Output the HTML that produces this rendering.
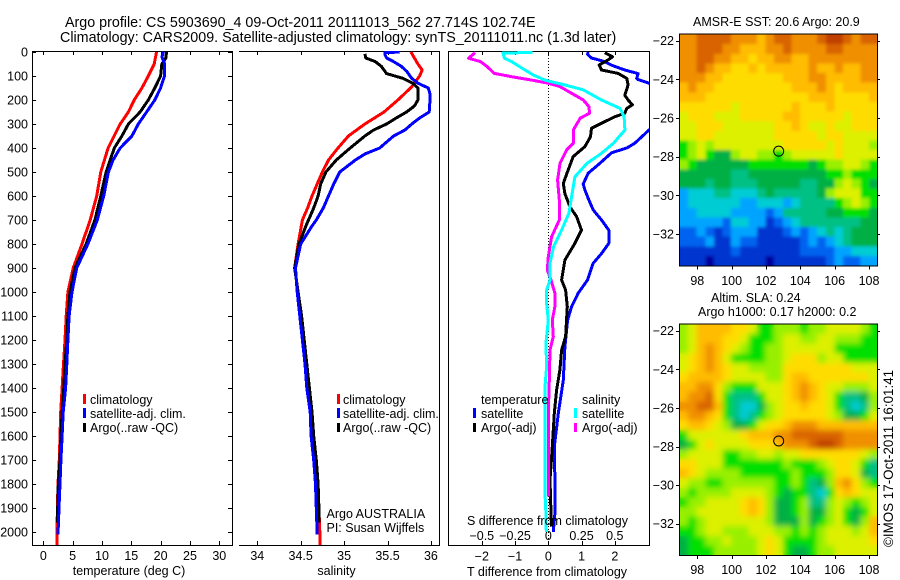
<!DOCTYPE html>
<html>
<head>
<meta charset="utf-8">
<title>Argo profile</title>
<style>
html,body{margin:0;padding:0;background:#fff;width:900px;height:580px;overflow:hidden}
svg{display:block}
text{font-family:"Liberation Sans",sans-serif;font-size:12.5px;fill:#000}
</style>
</head>
<body>
<svg id="chart" xmlns="http://www.w3.org/2000/svg" width="900" height="580" viewBox="0 0 900 580">
<defs>
<clipPath id="clip1"><rect x="32" y="51" width="200" height="494"/></clipPath>
<clipPath id="clip2"><rect x="239" y="51" width="201" height="494"/></clipPath>
<clipPath id="clip3"><rect x="448" y="51" width="201" height="494"/></clipPath>
<clipPath id="clipMap1"><rect x="679.5" y="34.5" width="198" height="231"/></clipPath>
<clipPath id="clipMap2"><rect x="679.5" y="324.5" width="198" height="230.5"/></clipPath>
<filter id="softSst" x="-5%" y="-5%" width="110%" height="110%"><feGaussianBlur in="SourceGraphic" stdDeviation="1.6" result="b"/><feMerge><feMergeNode in="SourceGraphic"/><feMergeNode in="b"/></feMerge></filter>
<filter id="softSla" x="-5%" y="-5%" width="110%" height="110%"><feGaussianBlur in="SourceGraphic" stdDeviation="3" result="b"/><feMerge><feMergeNode in="SourceGraphic"/><feMergeNode in="b"/></feMerge></filter>
</defs>
<text x="65" y="27" style="font-size:14.3px">Argo profile: CS 5903690_4 09-Oct-2011 20111013_562 27.714S 102.74E</text>
<text x="60" y="42" style="font-size:14.3px">Climatology: CARS2009. Satellite-adjusted climatology: synTS_20111011.nc (1.3d later)</text>
<g id="layer"></g>
<g>
<rect x="83" y="394" width="3" height="10" fill="#f00"/><text x="90" y="404">climatology</text>
<rect x="83" y="408" width="3" height="10" fill="#00f"/><text x="90" y="418">satellite-adj. clim.</text>
<rect x="83" y="423" width="3" height="9" fill="#000"/><text x="90" y="432">Argo(..raw -QC)</text>
</g>
<g>
<rect x="337" y="394" width="3" height="10" fill="#f00"/><text x="343" y="404">climatology</text>
<rect x="337" y="408" width="3" height="10" fill="#00f"/><text x="343" y="418">satellite-adj. clim.</text>
<rect x="337" y="423" width="3" height="9" fill="#000"/><text x="343" y="432">Argo(..raw -QC)</text>
</g>
<text x="326.500" y="518">Argo AUSTRALIA</text>
<text x="326.500" y="532">PI: Susan Wijffels</text>
<g>
<text x="481" y="404">temperature</text>
<rect x="473" y="408" width="3" height="10" fill="#00f"/><text x="481" y="418">satellite</text>
<rect x="473" y="423" width="3" height="9" fill="#000"/><text x="481" y="432">Argo(-adj)</text>
<text x="582" y="404">salinity</text>
<rect x="574" y="408" width="3" height="10" fill="#0ff"/><text x="582" y="418">satellite</text>
<rect x="574" y="423" width="3" height="9" fill="#f0f"/><text x="582" y="432">Argo(-adj)</text>
</g>
<text x="129" y="575" text-anchor="middle">temperature (deg C)</text>
<text x="336.500" y="575" text-anchor="middle">salinity</text>
<text x="467" y="576">T difference from climatology</text>
<text x="467" y="525">S difference from climatology</text>
<text x="693" y="26">AMSR-E SST: 20.6 Argo: 20.9</text>
<text x="711" y="302">Altim. SLA: 0.24</text>
<text x="698" y="316">Argo h1000: 0.17 h2000: 0.2</text>
<text transform="translate(893,547) rotate(-90)" style="font-size:13.4px">©IMOS 17-Oct-2011 16:01:41</text>
</svg>
<script>
var depthTicks = [0,100,200,300,400,500,600,700,800,900,1000,1100,1200,1300,1400,1500,1600,1700,1800,1900,2000];
var tempTicks = [0,5,10,15,20,25,30];
var salTicks = [34,34.5,35,35.5,36];
var salTickLabels = ['34','34.5','35','35.5','36'];
var tDiffTicks = [-2,-1,0,1,2];
var tDiffLabels = ['\u22122','\u22121','0','1','2'];
var sDiffTicks = [-0.5,-0.25,0,0.25,0.5];
var sDiffLabels = ['\u22120.5','\u22120.25','0','0.25','0.5'];
var lonTicks = [98,100,102,104,106,108];
var latTicks = [-22,-24,-26,-28,-30,-32];
var argoLon = 102.74;
var argoLat = -27.714;

var tempClimDepth = [0,50,75,100,150,200,250,300,400,500,600,700,800,900,1000,1100,1200,1300,1400,1500,1600,1700,1800,1900,2000,2054];
var tempClim = [19.3,18.9,18.4,17.9,16.8,15.5,14.5,13.1,11.05,9.8,9.1,8.0,6.6,5.1,4.2,3.9,3.7,3.45,3.2,2.96,2.85,2.73,2.5,2.4,2.33,2.3];
var tempSatDepth = [0,20,50,100,150,200,250,300,350,400,450,500,600,700,800,900,1000,1100,1200,1300,1400,1500,1600,1700,1800,1900,2010];
var tempSat = [20.5,20.2,20.7,20.65,20,19,17.6,16.2,15.1,13.1,11.9,11.1,10.3,9.2,7.6,5.7,4.9,4.4,4.2,4,3.8,3.4,3.2,3.0,2.85,2.68,2.5];
var tempArgoDepth = [0,25,50,100,150,200,250,300,350,400,500,600,700,800,900,1000,1100,1200,1300,1400,1500,1600,1700,1800,1900,1960];
var tempArgo = [21,20.9,20.2,20,19,17.9,16.5,14.5,13.4,12.1,10.7,9.8,8.8,7.3,5.4,4.55,4.2,4,3.7,3.5,3.2,3,2.85,2.56,2.45,2.4];

var salClimDepth = [0,50,75,100,145,200,250,300,350,400,450,500,550,600,650,700,800,900,1000,1100,1200,1300,1400,1500,1600,1700,1800,1900,2000,2054];
var salClim = [35.77,35.85,35.9,35.87,35.78,35.62,35.46,35.24,35.05,34.93,34.82,34.75,34.69,34.63,34.58,34.52,34.47,34.43,34.47,34.5,34.53,34.56,34.59,34.62,34.65,34.68,34.7,34.71,34.72,34.72];
var salSatDepth = [0,3,10,25,40,60,80,110,130,150,175,200,250,275,300,325,350,400,425,450,500,550,600,650,700,725,800,900,1000,1100,1200,1300,1400,1500,1600,1700,1800,1900,2010];
var salSat = [35.64,35.47,35.47,35.49,35.57,35.66,35.72,35.78,35.85,35.97,35.99,35.99,35.98,35.87,35.78,35.7,35.57,35.41,35.24,35.13,34.95,34.88,34.82,34.76,34.68,34.63,34.5,34.44,34.46,34.49,34.52,34.55,34.57,34.61,34.62,34.65,34.67,34.68,34.69];
var salArgoDepth = [8,25,40,60,75,90,110,130,150,200,225,250,275,300,325,350,400,450,500,550,600,650,700,725,800,900,1000,1100,1200,1300,1400,1500,1600,1700,1800,1900,1960];
var salArgo = [35.24,35.25,35.36,35.43,35.46,35.49,35.68,35.79,35.85,35.85,35.81,35.72,35.6,35.49,35.34,35.24,35.07,34.91,34.79,34.73,34.7,34.65,34.59,34.56,34.48,34.43,34.47,34.51,34.54,34.57,34.6,34.63,34.65,34.68,34.7,34.71,34.71];

var dTempSatDepth = [0,10,25,40,55,75,90,110,115,130,200,300,325,380,400,420,464,505,550,575,617,658,700,742,797,840,880,950,1005,1061,1117,1228,1367,1506,1644,1783,1922,2000];
var dTempSat = [1.2,1.18,1.3,1.7,1.9,2.3,2.7,2.66,2.7,3.03,3.6,3.8,3.03,2.6,2.36,1.9,1.55,1.2,1.05,1.1,1.22,1.35,1.6,1.82,1.82,1.6,1.35,1.18,0.9,0.7,0.58,0.5,0.45,0.3,0.18,0.2,0.2,0.15];
var dTempArgoDepth = [3,20,33,54,75,89,110,137,180,200,220,235,255,270,290,318,353,394,436,490,547,590,645,686,742,797,867,950,992,1061,1186,1242,1325,1408,1506,1644,1783,1922,1978];
var dTempArgo = [1.7,1.93,1.8,1.53,1.6,2.1,2.36,2.4,2.3,2.4,2.53,2.36,2.3,2.0,1.7,1.3,1.27,1.1,0.75,0.6,0.45,0.5,0.65,0.85,1.0,0.8,0.5,0.4,0.52,0.57,0.52,0.4,0.35,0.25,0.18,0.12,0.05,0.08,0.1];
var dSalSatDepth = [2,4,26,40,75,96,117,137,158,200,235,270,325,380,422,464,520,603,672,742,811,880,950,992,1047,1117,1214,1311,1394,1644,1839,1922,2000];
var dSalSat = [-0.12,-0.34,-0.33,-0.276,-0.175,-0.113,-0.025,0.125,0.263,0.4,0.54,0.57,0.576,0.49,0.4,0.29,0.2,0.175,0.155,0.1,0.04,0.0125,0.0125,-0.0125,-0.0125,0,-0.018,-0.0125,-0.025,-0.025,-0.025,-0.018,-0.015];
var dSalArgoDepth = [3,26,40,61,89,103,117,130,144,172,200,228,255,276,325,380,408,464,533,617,700,770,853,908,950,1005,1061,1117,1186,1242,1367,1506,1630,1853];
var dSalArgo = [-0.55,-0.6,-0.51,-0.46,-0.406,-0.276,-0.125,0,0.088,0.175,0.263,0.306,0.31,0.24,0.188,0.188,0.138,0.088,0.07,0.083,0.083,0.025,0,-0.0075,0.02,0.05,0.05,0.03,0.0375,0.0125,0.0075,0,0,0];

var heatColors = ['#00009c','#0034d0','#0064f0','#00a4ff','#00ccd4','#00c084','#00b044','#00e000','#98f000','#dcf000','#ffdc00','#ffbc00','#f09000','#d86400','#c04000'];
var sstValues = [
[12,12,13,13,13,13,12,12,12,11,12,13,13,12,12,12,13,14,14,13,12,13,13],
[12,12,13,13,13,12,12,11,11,11,12,12,13,12,12,12,12,13,13,12,12,12,12],
[12,12,13,13,12,12,11,11,10,11,11,12,12,11,11,12,12,12,12,12,12,12,12],
[12,12,13,12,11,11,10,10,11,10,11,11,11,11,11,12,11,11,12,11,11,12,12],
[12,12,12,11,11,10,10,10,10,10,10,10,11,11,11,12,12,11,11,11,11,12,12],
[11,12,11,11,10,10,10,10,10,10,10,10,10,11,11,11,12,11,10,11,11,11,11],
[11,11,11,10,10,10,10,10,10,10,10,10,10,10,10,11,11,11,10,10,10,10,11],
[10,10,10,10,10,10,9,10,10,10,10,10,10,11,10,10,10,11,10,10,10,10,10],
[9,10,10,10,9,9,9,10,10,10,10,10,11,11,10,10,10,10,10,9,10,10,10],
[9,9,10,10,10,9,9,9,9,9,9,10,10,11,10,9,9,10,9,9,10,10,10],
[9,9,10,10,9,9,9,9,9,9,9,10,10,10,10,10,9,10,10,9,9,9,9],
[7,8,9,8,9,9,9,9,9,9,9,9,10,10,10,10,10,9,10,9,9,9,8],
[7,8,9,7,6,6,8,9,9,8,8,7,8,9,9,9,9,9,10,9,9,9,9],
[8,7,6,6,6,6,6,6,7,7,7,7,7,7,7,6,7,8,8,9,9,8,7],
[6,6,6,6,6,6,5,5,6,6,6,6,6,6,6,6,6,7,7,8,7,7,7],
[6,6,6,5,6,6,5,5,5,6,6,6,6,6,5,5,6,6,8,9,8,7,6],
[3,4,4,4,5,5,4,4,4,5,6,5,5,5,5,5,6,8,9,9,9,7,7],
[3,4,4,4,4,4,4,3,3,4,4,4,3,4,5,5,5,5,7,8,9,8,7],
[3,3,4,4,4,4,3,3,3,3,2,3,5,5,5,5,5,6,6,7,7,7,6],
[3,3,3,3,3,2,4,4,3,3,1,2,3,4,5,5,5,5,5,5,5,6,6],
[2,2,3,2,1,2,3,3,3,1,1,1,2,3,2,3,4,5,4,5,6,6,6],
[2,2,2,3,1,1,3,2,2,1,1,1,1,1,2,3,2,3,4,5,6,6,6],
[1,1,1,1,1,1,2,1,1,1,1,1,1,1,2,2,2,2,3,3,4,4,4],
[1,1,1,0,1,1,1,1,1,1,0,1,1,1,1,1,1,2,3,2,2,3,3]
];
var slaValues = [
[8,9,11,11,11,11,10,10,9,7,7,8,8,8,7,8,8,9,9,9,9,8,7],
[8,9,11,11,11,10,10,9,7,7,7,8,9,9,8,8,9,9,8,8,8,7,7],
[8,9,11,12,11,10,9,8,7,7,8,8,9,9,9,9,9,9,7,7,7,7,7],
[9,10,11,12,11,9,7,7,7,7,8,8,9,10,10,10,8,9,9,7,7,7,7],
[9,10,11,12,11,10,9,9,8,8,8,8,10,10,10,10,10,10,10,10,9,9,9],
[10,11,11,11,11,10,9,9,9,9,8,8,10,11,11,10,10,10,10,10,10,10,9],
[11,11,12,12,10,8,7,7,7,9,9,9,10,11,12,11,10,9,9,8,8,8,9],
[11,12,12,13,10,7,5,5,5,7,9,9,10,11,12,11,10,9,7,5,5,6,8],
[12,12,13,13,11,7,5,4,4,6,8,9,10,10,11,10,10,9,7,5,4,5,8],
[11,12,12,11,10,7,5,4,5,7,8,9,10,10,10,10,10,9,8,6,6,7,9],
[10,11,11,10,9,8,6,6,7,9,10,10,11,12,12,12,11,11,11,11,11,11,11],
[7,9,9,9,9,9,9,10,11,11,11,12,12,13,13,13,13,13,13,12,12,12,12],
[6,7,9,10,9,9,9,9,10,10,10,11,12,12,12,13,14,14,13,12,12,12,12],
[8,9,9,9,9,7,7,8,8,9,9,8,9,9,10,10,10,10,10,10,10,9,8],
[10,10,9,9,9,7,7,7,7,7,7,7,8,7,7,7,8,9,10,10,9,7,5],
[11,10,9,8,8,8,8,7,7,7,7,7,7,8,7,7,7,8,10,10,9,6,5],
[9,8,8,7,7,8,8,8,8,8,8,7,7,8,7,5,6,8,11,12,10,8,7],
[8,7,8,8,8,8,9,9,9,9,8,7,6,7,7,5,4,7,10,11,10,9,9],
[7,8,8,9,9,9,9,10,11,10,8,6,6,7,8,5,5,8,9,8,7,8,9],
[8,8,9,9,9,9,9,10,11,10,8,6,6,7,8,6,6,8,9,7,6,7,9],
[8,7,8,9,9,9,9,9,9,9,8,6,6,6,8,6,7,8,9,7,6,8,11],
[7,7,8,9,9,8,8,8,9,9,9,8,8,7,8,7,8,9,9,9,8,9,11],
[6,7,7,8,8,9,8,8,8,9,10,9,7,7,7,7,8,9,9,9,9,9,10],
[6,7,7,7,8,8,8,8,8,9,10,9,7,6,6,7,8,8,9,9,9,9,9]
];

var SVGNS = 'http://www.w3.org/2000/svg';
var layer = document.getElementById('layer');

function make(tag, attrs, parent) {
  var el = document.createElementNS(SVGNS, tag);
  for (var k in attrs) el.setAttribute(k, attrs[k]);
  (parent || layer).appendChild(el);
  return el;
}
function depthY(d) { return 52 + d * 0.24; }
function tempX(t) { return 43.3 + t * 5.867; }
function salX(s) { return 257.3 + (s - 34) * 86.8; }
function dTempX(t) { return 548.3 + t * 33.25; }
function dSalX(s) { return 548.3 + s * 133; }
function mapLonX(lon) { return 697.3 + (lon - 98) * 17.17; }
function mapLatY1(lat) { return 40.7 + (-22 - lat) * 19.33; }
function mapLatY2(lat) { return 330.7 + (-22 - lat) * 19.3; }

function hLine(x1, x2, y, name) {
  var l = make('line', {x1:x1, x2:x2, y1:y, y2:y, stroke:'#000', 'stroke-width':1, 'shape-rendering':'crispEdges'});
  
  
}
function vLine(x, y1, y2, name) {
  var l = make('line', {x1:x, x2:x, y1:y1, y2:y2, stroke:'#000', 'stroke-width':1, 'shape-rendering':'crispEdges'});
  
  
}
function label(x, y, str, anchor, name) {
  var t = make('text', {x:x, y:y, 'text-anchor':anchor});
  t.textContent = str;
  
  
}
function profile(depths, values, xFn, color, clip, name) {
  var pts = [];
  for (var i = 0; i < values.length; i++) pts.push(xFn(values[i]).toFixed(1) + ',' + depthY(depths[i]).toFixed(1));
  var p = make('polyline', {points:pts.join(' '), fill:'none', stroke:color, 'stroke-width':3, 'stroke-linejoin':'round', 'clip-path':'url(#' + clip + ')', 'shape-rendering':'crispEdges'});
  
  
}
function heatmap(values, left, top, width, height, clip, soft, name) {
  var wrap = make('g', {'clip-path':'url(#' + clip + ')'});
  
  
  var g = make('g', {filter:'url(#' + soft + ')'}, wrap);
  
  
  var rows = values.length, cols = values[0].length;
  for (var r = 0; r < rows; r++) {
    for (var c = 0; c < cols; c++) {
      var x0 = left + width * c / cols, x1 = left + width * (c + 1) / cols;
      var y0 = top + height * r / rows, y1 = top + height * (r + 1) / rows;
      var idx = Math.max(0, Math.min(heatColors.length - 1, Math.round(values[r][c])));
      var cell = make('rect', {x:x0.toFixed(2), y:y0.toFixed(2), width:(x1 - x0 + 0.5).toFixed(2), height:(y1 - y0 + 0.5).toFixed(2), fill:heatColors[idx], 'shape-rendering':'crispEdges'}, g);
      
      
    }
  }
}

/* panel frames */
hLine(32, 232, 51.5, 'temperature-top-axis');
hLine(32, 232, 545.5, 'temperature-bottom-axis');
vLine(32.5, 51, 546, 'depth-axis');
vLine(232.5, 51, 546, 'temperature-right-axis');
hLine(239, 440, 51.5, 'salinity-top-axis');
hLine(239, 440, 545.5, 'salinity-bottom-axis');
vLine(439.5, 51, 546, 'salinity-right-axis');
hLine(448, 649, 51.5, 'difference-top-axis');
hLine(448, 649, 545.5, 'difference-bottom-axis');
vLine(448.5, 51, 546, 'difference-left-axis');
vLine(649.5, 51, 546, 'difference-right-axis');

/* depth ticks */
depthTicks.forEach(function (d) {
  var y = Math.round(depthY(d)) + 0.5;
  hLine(32, 36, y, 'depth-tick-left');
  hLine(228, 232, y, 'depth-tick-right');
  label(28, depthY(d) + 4.5, String(d), 'end', 'depth-tick-label');
});
tempTicks.forEach(function (t) {
  var x = Math.round(tempX(t)) + 0.5;
  vLine(x, 51, 55, 'temperature-tick-top');
  vLine(x, 541, 545, 'temperature-tick-bottom');
  label(tempX(t), 560, String(t), 'middle', 'temperature-tick-label');
});
salTicks.forEach(function (s, i) {
  var x = Math.round(salX(s)) + 0.5;
  vLine(x, 51, 55, 'salinity-tick-top');
  vLine(x, 541, 545, 'salinity-tick-bottom');
  label(salX(s), 560, salTickLabels[i], 'middle', 'salinity-tick-label');
});
tDiffTicks.forEach(function (t, i) {
  var x = Math.round(dTempX(t)) + 0.5;
  vLine(x, 51, 55, 'difference-tick-top');
  vLine(x, 541, 545, 'difference-tick-bottom');
  label(dTempX(t), 560.5, tDiffLabels[i], 'middle', 't-difference-tick-label');
});
sDiffTicks.forEach(function (s, i) {
  label(dSalX(s), 540, sDiffLabels[i], 'middle', 's-difference-tick-label');
});

/* zero line */
var zeroLine = make('line', {x1:548.5, x2:548.5, y1:52, y2:545, stroke:'#000', 'stroke-width':1, 'stroke-dasharray':'1 2', 'shape-rendering':'crispEdges'});



/* series */
profile(tempClimDepth, tempClim, tempX, '#f00', 'clip1', 'temperature-climatology-line');
profile(tempArgoDepth, tempArgo, tempX, '#000', 'clip1', 'temperature-argo-line');
profile(tempSatDepth, tempSat, tempX, '#00f', 'clip1', 'temperature-satellite-line');
profile(salClimDepth, salClim, salX, '#f00', 'clip2', 'salinity-climatology-line');
profile(salArgoDepth, salArgo, salX, '#000', 'clip2', 'salinity-argo-line');
profile(salSatDepth, salSat, salX, '#00f', 'clip2', 'salinity-satellite-line');
profile(dTempSatDepth, dTempSat, dTempX, '#00f', 'clip3', 't-difference-satellite-line');
profile(dTempArgoDepth, dTempArgo, dTempX, '#000', 'clip3', 't-difference-argo-line');
profile(dSalArgoDepth, dSalArgo, dSalX, '#f0f', 'clip3', 's-difference-argo-line');
profile(dSalSatDepth, dSalSat, dSalX, '#0ff', 'clip3', 's-difference-satellite-line');

/* maps */
function drawMap(values, top, bottom, latY, xLabelY, clip, soft, name) {
  heatmap(values, 679.5, top, 198, bottom - top, clip, soft, name + '-heatmap');
  hLine(679, 878, top - 0.5, name + '-top-axis');
  hLine(679, 878, bottom + 0.5, name + '-bottom-axis');
  vLine(679.5, top - 1, bottom + 1, name + '-left-axis');
  vLine(877.5, top - 1, bottom + 1, name + '-right-axis');
  lonTicks.forEach(function (lon) {
    var x = Math.round(mapLonX(lon)) + 0.5;
    vLine(x, bottom + 1, bottom + 4, name + '-lon-tick');
    label(mapLonX(lon), xLabelY, String(lon), 'middle', name + '-lon-label');
  });
  latTicks.forEach(function (lat) {
    var y = Math.round(latY(lat)) + 0.5;
    hLine(676, 679, y, name + '-lat-tick');
    hLine(878, 880, y, name + '-lat-tick-right');
    label(674, latY(lat) + 4.5, '\u2212' + Math.abs(lat), 'end', name + '-lat-label');
  });
  var c = make('circle', {cx:mapLonX(argoLon), cy:latY(argoLat), r:5, fill:'none', stroke:'#000', 'stroke-width':1});
  
  
}
drawMap(sstValues, 34.5, 265.5, mapLatY1, 285, 'clipMap1', 'softSst', 'sst-map');
drawMap(slaValues, 324.5, 555, mapLatY2, 574, 'clipMap2', 'softSla', 'sla-map');
</script>
</body>
</html>
